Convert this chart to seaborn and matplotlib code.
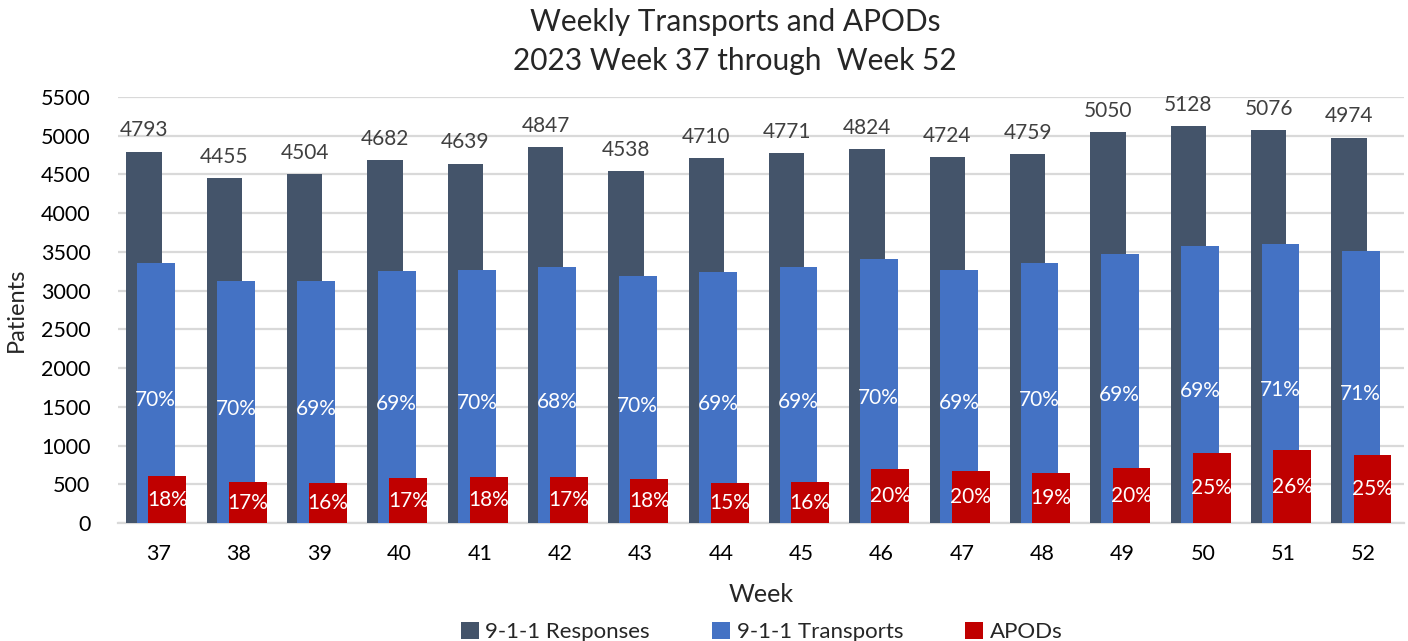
import numpy as np
import pandas as pd
import matplotlib.pyplot as plt
import seaborn as sns
from matplotlib.patches import Patch

# -------------------
# DATA
# -------------------
weeks = ["37", "38", "39", "40", "41", "42", "43", "44",
         "45", "46", "47", "48", "49", "50", "51", "52"]
responses = [4793, 4455, 4504, 4682, 4639, 4847, 4538, 4710,
             4771, 4824, 4724, 4759, 5050, 5128, 5076, 4974]
transports = [3357, 3125, 3125, 3254, 3266, 3305, 3189, 3241,
              3305, 3408, 3266, 3357, 3473, 3577, 3602, 3512]
apods = [607, 530, 516, 580, 594, 594, 568, 516,
         530, 697, 671, 646, 710, 904, 943, 878]
transport_pct = ["70%", "70%", "69%", "69%", "70%", "68%", "70%", "69%",
                 "69%", "70%", "69%", "70%", "69%", "69%", "71%", "71%"]
apod_pct = ["18%", "17%", "16%", "17%", "18%", "17%", "18%", "15%",
            "16%", "20%", "20%", "19%", "20%", "25%", "26%", "25%"]

series_names = ["9-1-1 Responses", "9-1-1 Transports", "APODs"]
colors = ["#44546A", "#4472C4", "#C00000"]

# -------------------
# STYLE
# -------------------
sns.set_theme(style="white")
plt.rcParams['font.family'] = ['Lato', 'DejaVu Sans']

fig = plt.figure(figsize=(14.08, 6.41), dpi=100)
ax = fig.add_axes([0.084, 0.184, 0.913, 0.665])

# overlapping bars: (width, offset) per series
layout = [(0.44, -0.18), (0.47, -0.035), (0.47, 0.11)]
values = [responses, transports, apods]

for vals, col, (w, off) in zip(values, colors, layout):
    df = pd.DataFrame({"Week": weeks, "Patients": vals})
    sns.barplot(data=df, x="Week", y="Patients", color=col, width=w,
                saturation=1, ax=ax, zorder=3)
    for bar in ax.containers[-1]:
        bar.set_x(bar.get_x() + off)
        bar.set_edgecolor("none")

# -------------------
# LABELS
# -------------------
ax.bar_label(ax.containers[0], labels=[str(v) for v in responses],
             padding=8, fontsize=15, color="#404040")
ax.bar_label(ax.containers[1], labels=transport_pct, label_type="center",
             fontsize=15, color="white", padding=-5)
ax.bar_label(ax.containers[2], labels=apod_pct, label_type="center",
             fontsize=15, color="white")

ax.set_ylim(0, 5500)
ax.set_xlim(-0.5, len(weeks) - 0.5)
ax.set_yticks(np.arange(0, 5501, 500))
ax.yaxis.grid(True, color="#D9D9D9", linewidth=1.6, zorder=0)
ax.set_axisbelow(True)
for s in ["top", "right", "left"]:
    ax.spines[s].set_visible(False)
ax.spines["bottom"].set_color("#D9D9D9")
ax.spines["bottom"].set_linewidth(1.6)
ax.tick_params(axis="x", length=0, labelsize=15.5, colors="black", pad=15)
ax.tick_params(axis="y", length=0, labelsize=15.5, colors="black", pad=20)

ax.set_xlabel("Week", fontsize=18, labelpad=14)
ax.set_ylabel("Patients", fontsize=17, labelpad=10)

fig.text(0.522, 0.965, "Weekly Transports and APODs", ha="center", va="center",
         fontsize=21.5)
fig.text(0.522, 0.905, "2023 Week 37 through  Week 52", ha="center", va="center",
         fontsize=21.5)

handles = [Patch(facecolor=c, edgecolor="none") for c in colors]
fig.legend(handles, series_names, loc="center", bbox_to_anchor=(0.541, 0.014),
           ncol=3, frameon=False, fontsize=16, handlelength=0.8, handleheight=0.8,
           handletextpad=0.3, columnspacing=2.8)

fig.savefig("out.png", dpi=100)
